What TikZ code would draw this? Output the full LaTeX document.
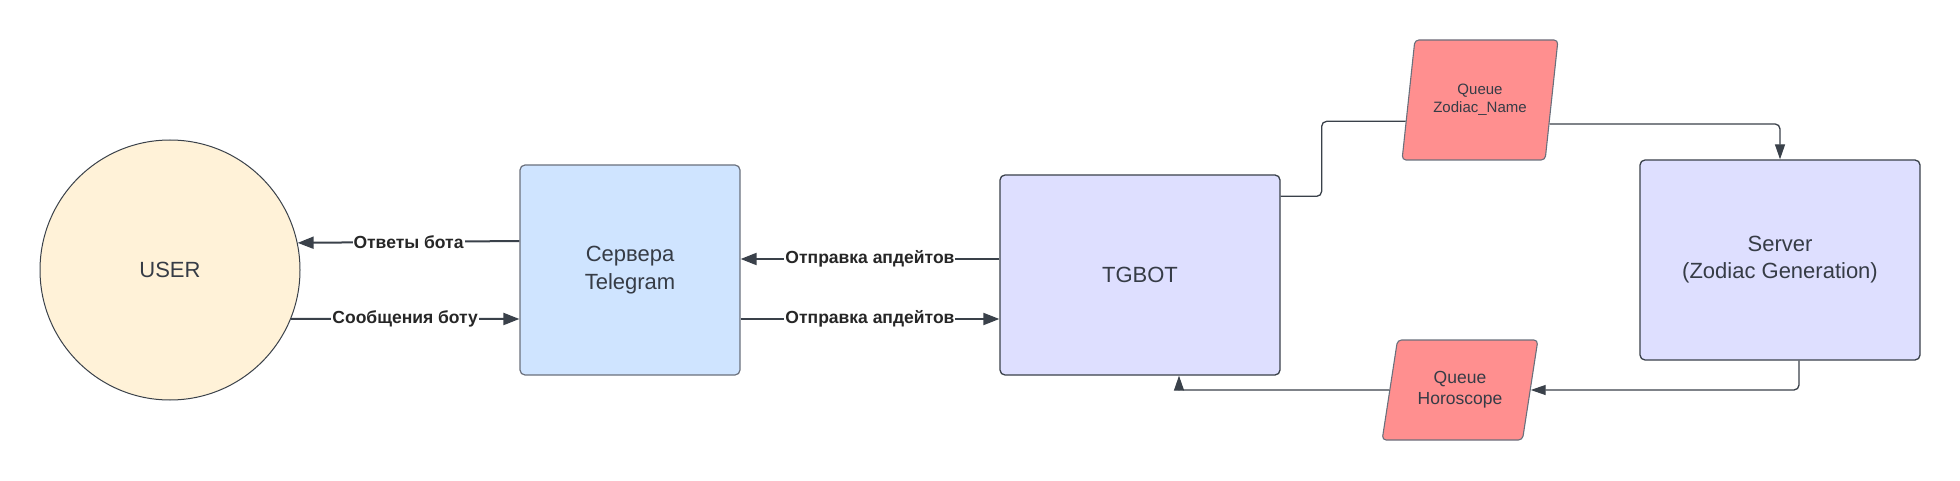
\documentclass[tikz,border=0pt]{standalone}
\usepackage{fontspec}
\setmainfont{Liberation Sans}
\usepackage{xcolor}
\usetikzlibrary{arrows.meta,shapes.geometric}
\definecolor{usercol}{HTML}{FFF2D8}
\definecolor{tgcol}{HTML}{CFE4FF}
\definecolor{botcol}{HTML}{DEDFFF}
\definecolor{queuecol}{HTML}{FF8F8F}
\definecolor{linecol}{HTML}{3A414A}
\definecolor{edgecol}{HTML}{6A707C}
\definecolor{textcol}{HTML}{363C46}
\tikzset{
	>={Triangle[length=16pt,width=12pt]},
	userbox/.style={circle,draw=linecol,line width=1pt,fill=usercol,minimum size=260pt,
			text=textcol,font=\fontsize{22}{27}\selectfont},
	tgbox/.style={rectangle,rounded corners=5pt,draw=edgecol,line width=1.2pt,fill=tgcol,
			minimum width=220pt,minimum height=210pt,align=center,text=textcol,
			font=\fontsize{22}{28}\selectfont},
	botbox/.style={rectangle,rounded corners=5pt,draw=linecol,line width=1.3pt,fill=botcol,
			minimum width=280pt,minimum height=200pt,align=center,text=textcol,
			font=\fontsize{22}{27}\selectfont},
	queuebox/.style={trapezium,trapezium left angle=75.5,trapezium right angle=104.5,
			trapezium stretches=true,rounded corners=4pt,draw=edgecol,line width=1.1pt,
			fill=queuecol,minimum width=156pt,align=center,text=textcol},
	lbl/.style={draw=linecol,line width=2pt},
	link/.style={draw=linecol,line width=1.3pt,rounded corners=5pt,
			>={Triangle[length=15pt,width=10pt]}},
	lbltext/.style={midway,fill=white,inner sep=1pt,text=black!85,
			font=\bfseries\fontsize{17.5}{20}\selectfont}
}
\begin{document}
\begin{tikzpicture}[x=1pt,y=1pt]
	\useasboundingbox (0,0) rectangle (1960,480);

	\node[userbox] (user) at (170,210) {USER};
	\node[tgbox] (tg) at (630,210) {Сервера\\Telegram};
	\node[botbox] (tgbot) at (1140,205) {TGBOT};
	\node[botbox] (server) at (1780,220) {Server\\(Zodiac Generation)};
	\node[queuebox,minimum height=120pt,font=\fontsize{15}{18}\selectfont] (qname) at (1480,380) {Queue\\Zodiac\_Name};
	\node[queuebox,minimum height=100pt,font=\fontsize{17.5}{21}\selectfont] (qhoro) at (1460,90) {Queue\\Horoscope};

	\draw[lbl,->] ([yshift=29pt]tg.west) -- (user.12.9) node[lbltext] {Ответы бота};
	\draw[lbl,->] (user.-22.2) -- ([yshift=-49pt]tg.west) node[lbltext] {Сообщения боту};
	\draw[lbl,->] ([yshift=16pt]tgbot.west) -- ([yshift=11pt]tg.east) node[lbltext] {Отправка апдейтов};
	\draw[lbl,->] ([yshift=-49pt]tg.east) -- ([yshift=-44pt]tgbot.west) node[lbltext] {Отправка апдейтов};

	\draw[link] ([yshift=-22pt]tgbot.north east) -- ++(41,0) |- (qname.196);
	\draw[link,->] (qname.341) -| (server.north);
	\draw[link,->] ([xshift=19pt]server.south) |- (qhoro.east);
	\draw[link,->] (qhoro.west) -| ([xshift=39pt]tgbot.south);
\end{tikzpicture}
\end{document}
